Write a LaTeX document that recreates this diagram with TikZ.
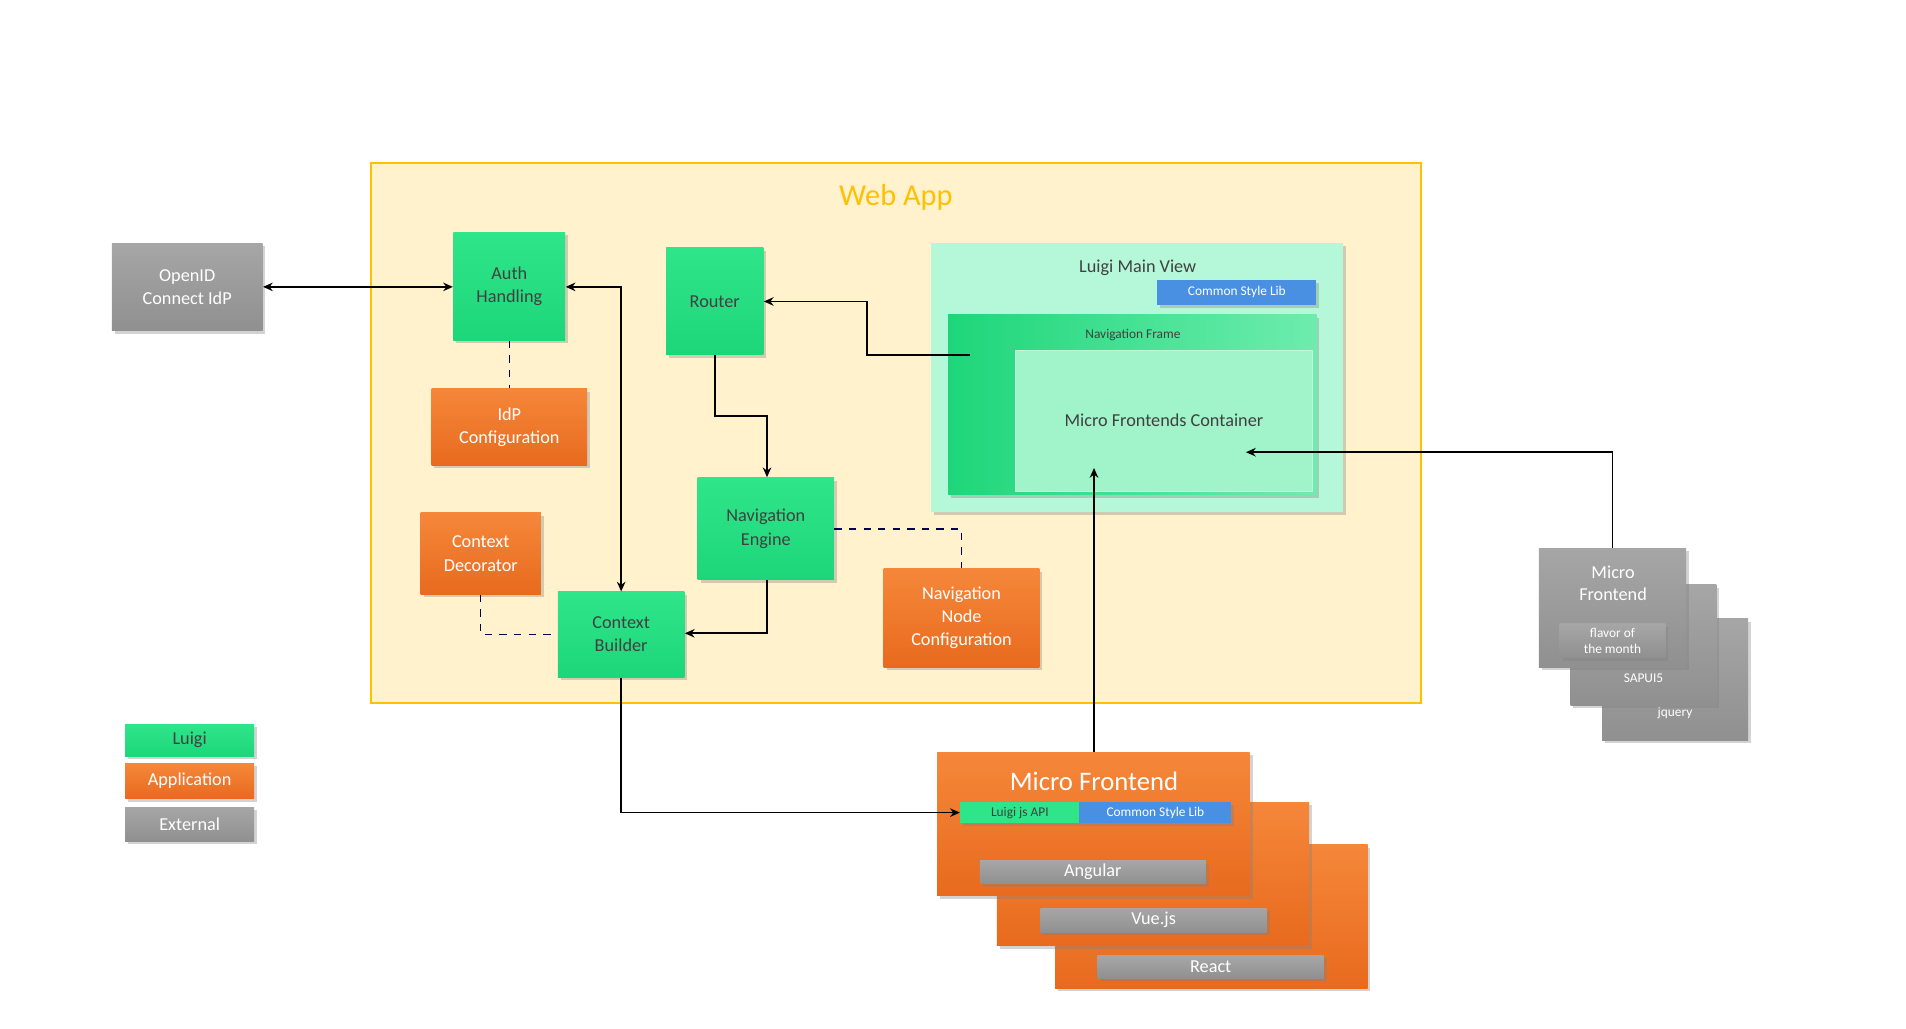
\documentclass[tikz,border=0pt]{standalone}
\usepackage{fontspec}
\setmainfont{Carlito}
\usetikzlibrary{shadows,arrows.meta}
\definecolor{lgreen}{HTML}{2FE58A}
\definecolor{lgreenb}{HTML}{1ED67A}
\definecolor{lorange}{HTML}{F5873A}
\definecolor{lorangeb}{HTML}{E86A1E}
\definecolor{lgray}{HTML}{A6A6A6}
\definecolor{lgrayb}{HTML}{909090}
\definecolor{lblue}{HTML}{4A90E2}
\definecolor{wbfill}{HTML}{FFF2CC}
\definecolor{wbline}{HTML}{FFC000}
\definecolor{txt}{HTML}{404040}
\tikzset{
  base/.style={rectangle,inner sep=0pt,align=center,font=\fontsize{7.5}{9.5}\selectfont,drop shadow={shadow xshift=1.2pt,shadow yshift=-1.2pt,opacity=0.35}},
  gr/.style={base,top color=lgreen,bottom color=lgreenb,text=txt},
  og/.style={base,top color=lorange,bottom color=lorangeb,text=white},
  gy/.style={base,top color=lgray,bottom color=lgrayb,text=white},
  bl/.style={base,fill=lblue,text=white,font=\fontsize{5.5}{6.5}\selectfont},
  con/.style={draw=black,line width=0.7pt},
  arr/.style={con,-{Stealth[length=4pt,width=3.5pt]}},
  darr/.style={con,{Stealth[length=4pt,width=3.5pt]}-{Stealth[length=4pt,width=3.5pt]}},
  dsh/.style={draw=black!70!blue,line width=0.6pt,dashed},
}
\newcommand{\bx}[7]{\node[#6,minimum width={(#4-#2)*0.5pt},minimum height={(#5-#3)*0.5pt}] (#1) at ({(#2+#4)/2},{(#3+#5)/2}) {#7};}
\begin{document}
\begin{tikzpicture}[x=0.5pt,y=-0.5pt]
\useasboundingbox (0,0) rectangle (1568,846);
% web app
\node[draw=wbline,fill=wbfill,line width=0.8pt,minimum width={864*0.5pt},minimum height={444*0.5pt},inner sep=0pt] (web) at (737,356) {};
\node[text=wbline,font=\fontsize{12.5}{14}\selectfont] (webt) at (737,162) {Web App};
\bx{oid}{92}{200}{216}{272}{gy}{OpenID\\Connect IdP}
\bx{auth}{373}{191}{465}{280}{gr}{Auth\\Handling}
\bx{idp}{355}{320}{483}{383}{og}{IdP\\Configuration}
\bx{router}{548}{204}{628}{292}{gr}{Router}
\bx{lmv}{766}{200}{1105}{421}{base,fill=green!15!cyan!10!lgreen!35}{}
\node[text=txt,font=\fontsize{7.5}{9}\selectfont] (lmvt) at (936,220) {Luigi Main View};
\bx{csl}{952}{230}{1083}{251}{bl}{Common Style Lib}
\bx{nf}{780}{259}{1083}{407}{base,left color=lgreenb,right color=lgreen!70!white,text=txt}{}
\node[text=txt,font=\fontsize{5.5}{6.5}\selectfont] (nft) at (932,276) {Navigation Frame};
\bx{mfc}{835}{288}{1080}{404}{rectangle,fill=lgreen!45!white,draw=white!70!lgreen,inner sep=0pt,font=\fontsize{7.5}{9}\selectfont,text=txt}{Micro Frontends Container}
\bx{ne}{574}{393}{686}{477}{gr}{Navigation\\Engine}
\bx{cd}{346}{422}{445}{489}{og}{Context\\Decorator}
\bx{cb}{459}{487}{563}{557}{gr}{Context\\Builder}
\bx{nnc}{727}{468}{855}{549}{og}{Navigation\\Node\\Configuration}
% legend
\bx{lg1}{103}{596}{209}{622}{gr}{Luigi}
\bx{lg2}{103}{628}{209}{657}{og}{Application}
\bx{lg3}{103}{664}{209}{692}{gy}{External}
% micro frontend stack
\bx{mf3}{868}{695}{1125}{813}{og}{}
\bx{rb}{903}{786}{1089}{805}{gy}{React}
\bx{mf2}{820}{660}{1077}{778}{og}{}
\bx{vb}{856}{747}{1042}{767}{gy}{Vue.js}
\bx{mf1}{771}{619}{1028}{737}{og}{}
\node[text=white,font=\fontsize{11}{13}\selectfont] (mft) at (900,643) {Micro Frontend};
\bx{lja}{790}{660}{888}{677}{base,fill=lgreen,text=txt,font=\fontsize{5.5}{6.5}\selectfont}{Luigi js API}
\bx{csl2}{888}{660}{1013}{677}{bl}{Common Style Lib}
\bx{ab}{806}{708}{992}{727}{gy}{Angular}
% right stack
\bx{rs3}{1318}{509}{1438}{609}{gy}{}
\node[text=white,font=\fontsize{5.5}{6.5}\selectfont] (jq) at (1378,587) {jquery};
\bx{rs2}{1292}{481}{1412}{580}{gy}{}
\node[text=white,font=\fontsize{5.5}{6.5}\selectfont] (sap) at (1352,558) {SAPUI5};
\bx{rs1}{1266}{451}{1387}{549}{gy}{}
\node[text=white,font=\fontsize{7.5}{9}\selectfont,align=center] (rst) at (1327,480) {Micro\\Frontend};
\bx{fl}{1283}{513}{1370}{541}{gy,font=\fontsize{5.5}{6.5}\selectfont}{flavor of\\the month}
% coordinates
\coordinate (nfl) at (798,292);
\coordinate (mfcb) at (900,385);
\coordinate (mfcr) at (1025,372);
% connectors
\draw[darr] (oid.east |- 0,236) -- (auth.west |- 0,236);
\draw[darr] (auth.east |- 0,236) -| (cb.north);
\draw[dsh] (auth.south) -- (idp.north);
\draw[arr] (nfl) -| (713,248) -- (router.east |- 0,248);
\draw[arr] (router.south) |- (631,342) -- (ne.north -| 631,0);
\draw[arr] (ne.south -| 631,0) |- (cb.east |- 0,521);
\draw[dsh] (ne.east |- 0,435) -| (nnc.north);
\draw[dsh] (cd.south) |- (cb.west |- 0,522);
\draw[arr] (cb.south) |- (lja.west);
\draw[arr] (mf1.north -| 900,0) -- (mfcb);
\draw[arr] (rs1.north) |- (mfcr);
\end{tikzpicture}
\end{document}
